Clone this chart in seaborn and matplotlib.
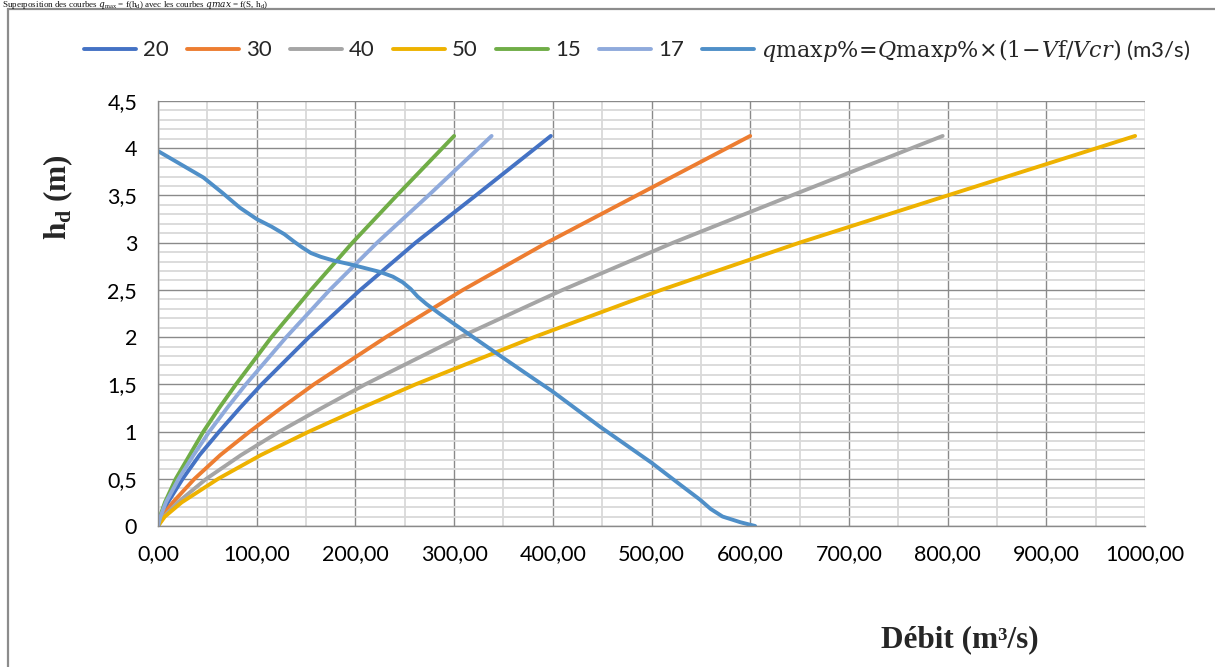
import numpy as np
import pandas as pd
import matplotlib
matplotlib.use("Agg")
import matplotlib.pyplot as plt
from matplotlib.patches import Rectangle
from matplotlib.ticker import MultipleLocator, FixedLocator
import seaborn as sns

# Water depth above the sill (m) at which each discharge curve is tabulated
h_levels = [0, 0.1, 0.25, 0.5, 0.75, 1.0, 1.25, 1.5, 2.0, 2.5, 3.0, 3.5, 4.13]

# Discharge over the spillway (m3/s) for each spillway width (m)
q_20 = [0, 3, 10, 25, 42, 62, 83, 105, 153, 205, 261, 322, 398]
q_30 = [0, 4, 15, 37, 63, 93, 125, 158, 231, 309, 394, 485, 600]
q_40 = [0, 6, 20, 49, 84, 123, 166, 210, 306, 410, 522, 642, 795]
q_50 = [0, 7, 24, 61, 104, 153, 206, 261, 381, 510, 650, 800, 990]
q_15 = [0, 2, 7, 18, 32, 46, 62, 79, 115, 155, 197, 242, 300]
q_17 = [0, 2.5, 8, 21, 36, 52, 70, 89, 130, 174, 222, 274, 338]

# Laminated flood peak qmax p% = Qmax p% x (1 - Vf/Vcr)
q_lam = [0, 46, 65, 83, 100, 115, 128, 138, 146, 155, 165, 178, 195, 210,
         225, 238, 248, 256, 263, 272, 285, 300, 340, 382, 399, 448, 500,
         530, 549, 560, 572, 590, 605]
h_lam = [3.97, 3.69, 3.53, 3.37, 3.25, 3.17, 3.09, 3.01, 2.95, 2.89, 2.85,
         2.81, 2.77, 2.73, 2.69, 2.64, 2.58, 2.51, 2.43, 2.35, 2.25, 2.14,
         1.85, 1.55, 1.43, 1.05, 0.67, 0.43, 0.28, 0.18, 0.10, 0.04, 0.0]

x_ticks = [0, 100, 200, 300, 400, 500, 600, 700, 800, 900, 1000]
x_tick_labels = ["0,00", "100,00", "200,00", "300,00", "400,00", "500,00",
                 "600,00", "700,00", "800,00", "900,00", "1000,00"]
y_ticks = [0, 0.5, 1, 1.5, 2, 2.5, 3, 3.5, 4, 4.5]
y_tick_labels = ["0", "0,5", "1", "1,5", "2", "2,5", "3", "3,5", "4", "4,5"]

lam_label = r"$q\mathrm{max}p\%\!=\!Q\mathrm{max}p\%\!\times\!(1\!-\!V\mathrm{f}/Vcr)$ (m3/s)"

series = [
    ("20", q_20, "#4472C4"),
    ("30", q_30, "#ED7D31"),
    ("40", q_40, "#A5A5A5"),
    ("50", q_50, "#EEB200"),
    ("15", q_15, "#70AD47"),
    ("17", q_17, "#8FAADC"),
]

sns.set_theme(style="white")
plt.rcParams["font.family"] = ["Lato", "DejaVu Sans"]
plt.rcParams["mathtext.fontset"] = "custom"
plt.rcParams["mathtext.it"] = "DejaVu Serif:italic"
plt.rcParams["mathtext.rm"] = "DejaVu Serif"
plt.rcParams["mathtext.bf"] = "Liberation Serif:bold"

W, H = 1215, 667
fig = plt.figure(figsize=(W / 100, H / 100), dpi=100)
fig.patch.set_facecolor("white")

ax = fig.add_axes([158 / W, 1 - 526 / H, (1145 - 158) / W, (526 - 101) / H])

lw = 2.8
for name, qs, col in series:
    df = pd.DataFrame({"q": qs, "h": h_levels})
    sns.lineplot(data=df, x="q", y="h", color=col, lw=lw, label=name,
                 sort=False, estimator=None, ax=ax, solid_capstyle="round",
                 solid_joinstyle="round")

df_lam = pd.DataFrame({"q": q_lam, "h": h_lam})
sns.lineplot(data=df_lam, x="q", y="h", color="#4F8FC8", lw=lw, label=lam_label,
             sort=False, estimator=None, ax=ax, solid_capstyle="round",
             solid_joinstyle="round")

ax.set_xlim(0, 1000)
ax.set_ylim(0, 4.5)
ax.xaxis.set_major_locator(FixedLocator(x_ticks))
ax.yaxis.set_major_locator(FixedLocator(y_ticks))
ax.xaxis.set_minor_locator(MultipleLocator(50))
ax.yaxis.set_minor_locator(MultipleLocator(0.1))
ax.set_xticklabels(x_tick_labels)
ax.set_yticklabels(y_tick_labels)

ax.grid(which="minor", color="#d9d9d9", lw=1.3)
ax.grid(which="major", color="#8a8a8a", lw=1.0)
ax.set_axisbelow(True)

for side in ["top", "right"]:
    ax.spines[side].set_visible(False)
for side in ["left", "bottom"]:
    ax.spines[side].set_color("#8a8a8a")
    ax.spines[side].set_linewidth(1.0)

ax.tick_params(axis="both", which="major", direction="out", length=8,
               width=1.0, color="#8a8a8a", labelsize=15.5, labelcolor="black")
ax.tick_params(axis="x", which="major", pad=5)
ax.tick_params(axis="y", which="major", pad=7)
ax.tick_params(which="minor", length=0)
ax.set_xlabel("")
ax.set_ylabel("")

handles, labels = ax.get_legend_handles_labels()
ax.get_legend().remove()
fig.legend(handles, labels, loc="center", bbox_to_anchor=(637 / W, 1 - 50 / H),
           ncol=7, frameon=False, fontsize=16, handlelength=2.35,
           handletextpad=0.3, columnspacing=0.83)

serif = ["Liberation Serif", "DejaVu Serif"]
fig.text(58 / W, 1 - 197 / H, r"$\mathbf{h}_{\mathbf{d}}$ (m)", rotation=90,
         ha="center", va="center", fontsize=22.5, fontweight="bold",
         family=serif)
fig.text(960 / W, 1 - 640 / H, "Débit (m³/s)", ha="center", va="center",
         fontsize=22.5, fontweight="bold", family=serif)

# Chart title, in the strip above the chart frame
fig.text(2 / W, 1 - 7 / H,
         r"Superposition des courbes $q_{\mathregular{max}}$ = f(h$_{\mathregular{d}}$) "
         r"avec les courbes $qmax$ = f(S, h$_{\mathregular{d}}$)",
         ha="left", va="baseline", fontsize=6.5, family=serif, color="#111111")

# Outer chart frame
fig.patches.append(Rectangle((8 / W, -0.05), 1.2, 1 - 9 / H + 0.05,
                             transform=fig.transFigure, fill=False,
                             edgecolor="#8c8c8c", lw=1.6))

fig.savefig("out.png", dpi=100)
